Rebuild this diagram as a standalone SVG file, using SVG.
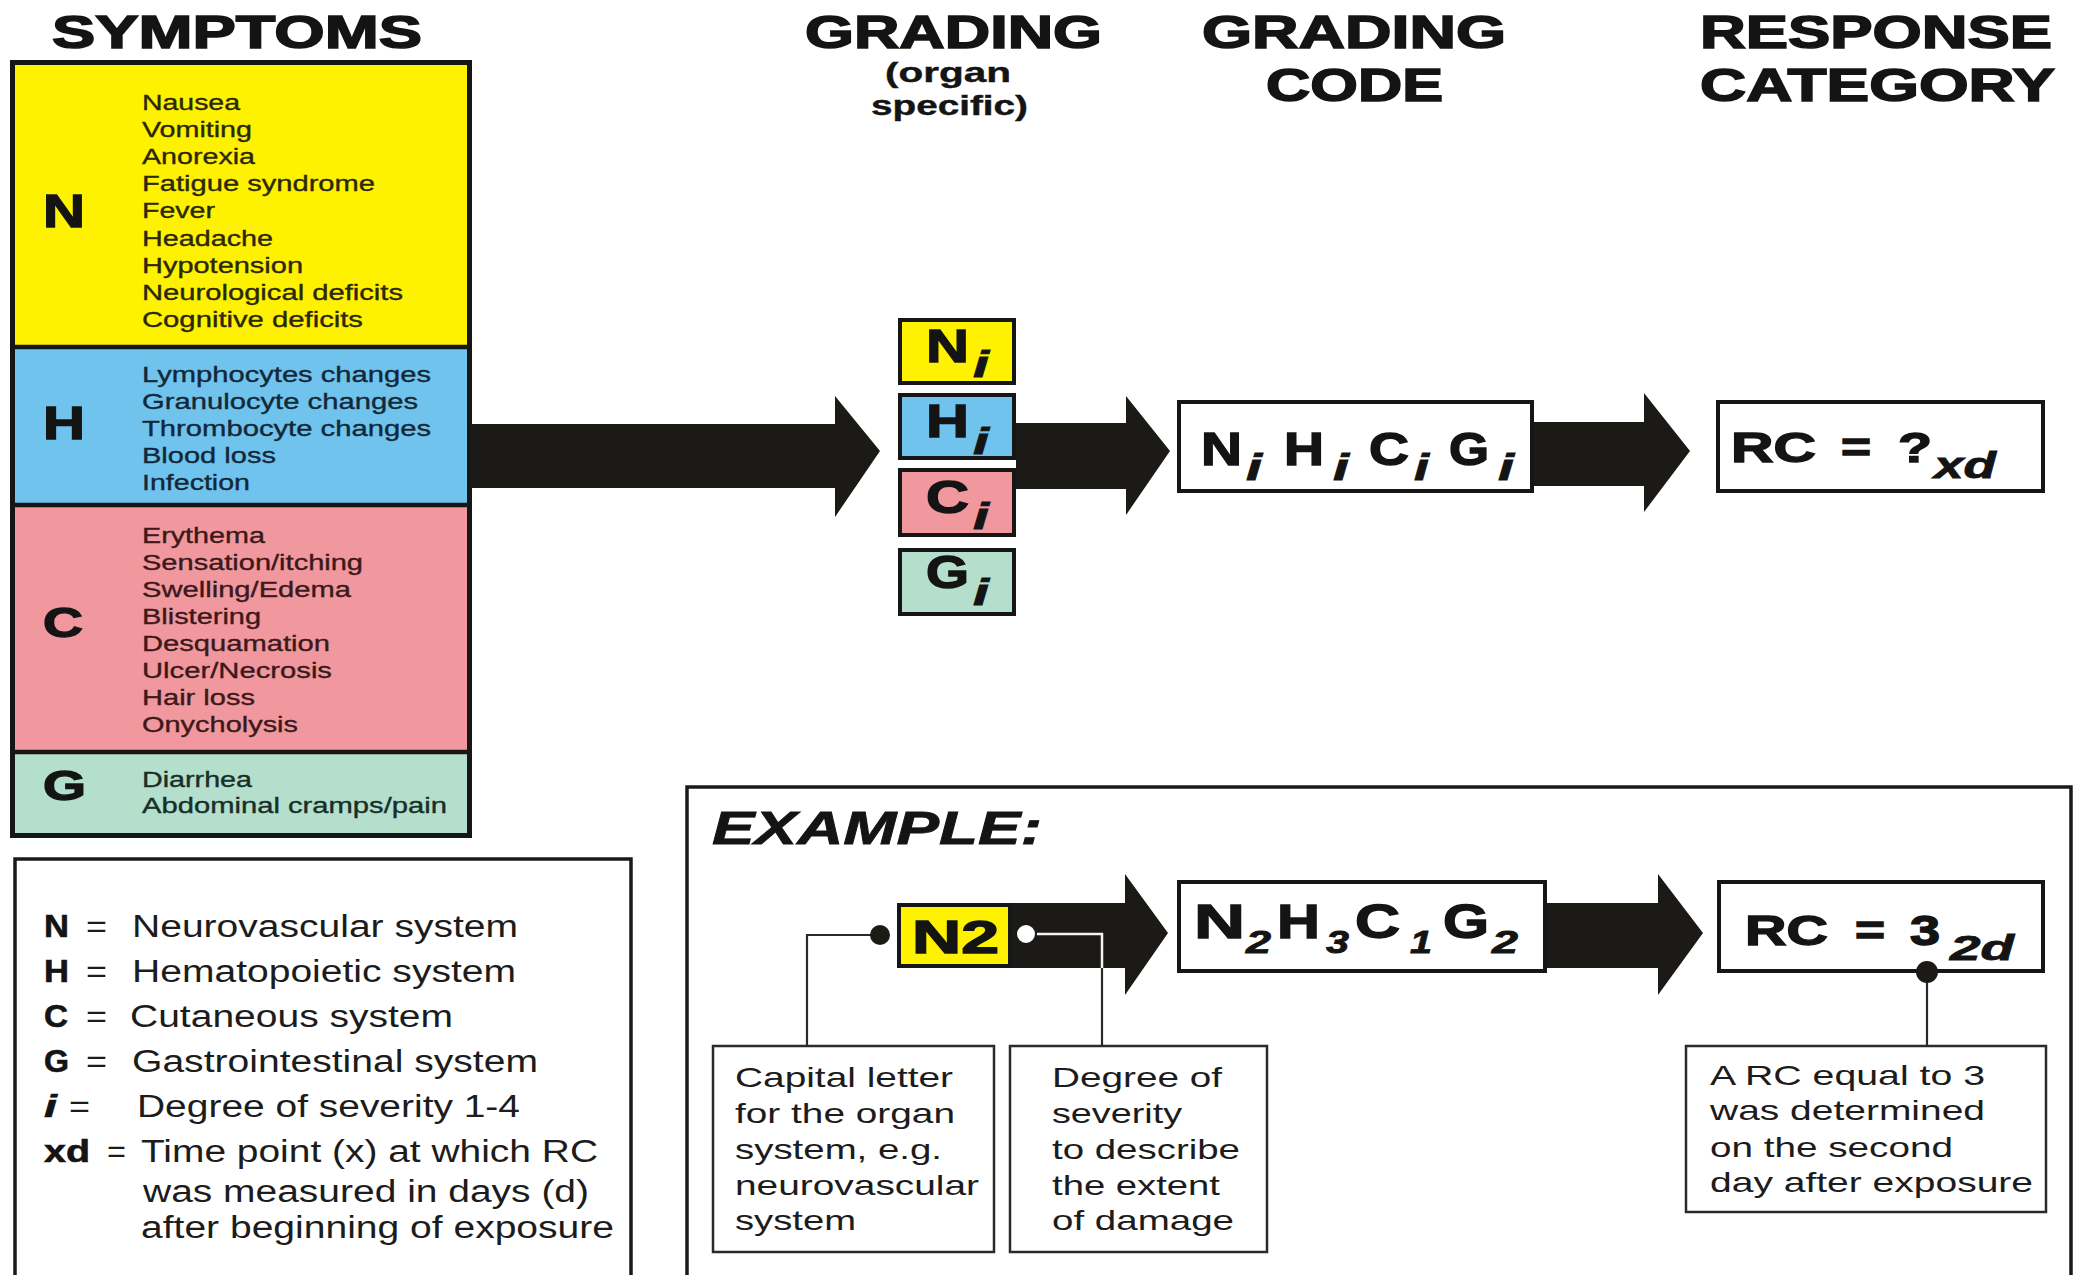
<svg xmlns="http://www.w3.org/2000/svg" width="2078" height="1275" viewBox="0 0 2078 1275">
  <style>
    text { font-family: "Liberation Sans", Arial, sans-serif; }
    .hd { font-weight: bold; font-size: 47px; fill: #141414; stroke: #141414; stroke-width: 1.6; }
    .hs { font-weight: bold; font-size: 28px; fill: #141414; stroke: #141414; stroke-width: 0.4; }
    .big { font-weight: bold; fill: #141414; stroke: #141414; stroke-width: 1.4; }
    .sub { font-weight: bold; font-style: italic; fill: #141414; stroke: #141414; stroke-width: 0.8; }
    .item { font-size: 22px; stroke-width: 0.35; }
    .iy { fill: #2a2808; stroke: #2a2808; }
    .ib { fill: #122838; stroke: #122838; }
    .ir { fill: #3c181b; stroke: #3c181b; }
    .ig { fill: #182e27; stroke: #182e27; }
    .lg { font-size: 31px; fill: #1c1c1c; }
    .lgb { font-size: 31px; font-weight: bold; fill: #141414; stroke: #141414; stroke-width: 0.6; }
    .note { font-size: 28px; fill: #1c1c1c; }
    .frame { fill: none; stroke: #161616; stroke-width: 5; }
    .sep { stroke: #161616; stroke-width: 4.5; }
    .gbox { stroke: #161616; stroke-width: 4; }
    .wbox { fill: #ffffff; stroke: #161616; stroke-width: 4; }
    .panel { fill: #ffffff; stroke: #1a1a1a; stroke-width: 3.5; }
    .callout { fill: #ffffff; stroke: #2a2a2a; stroke-width: 2.5; }
    .arrow { fill: #1c1a17; }
    .lead { fill: none; stroke: #2a2a2a; stroke-width: 2.2; }
    .lead-light { fill: none; stroke: #f4f4f4; stroke-width: 2.5; }
  </style>

  <rect width="2078" height="1275" fill="#ffffff"/>

  <!-- column headings -->
  <g id="headings">
    <text class="hd" x="52" y="48" textLength="370" lengthAdjust="spacingAndGlyphs">SYMPTOMS</text>
    <text class="hd" x="805" y="48" textLength="297" lengthAdjust="spacingAndGlyphs">GRADING</text>
    <text class="hs" x="885" y="82" textLength="126" lengthAdjust="spacingAndGlyphs">(organ</text>
    <text class="hs" x="871" y="115" textLength="157" lengthAdjust="spacingAndGlyphs">specific)</text>
    <text class="hd" x="1202" y="48" textLength="304" lengthAdjust="spacingAndGlyphs">GRADING</text>
    <text class="hd" x="1266" y="101" textLength="177" lengthAdjust="spacingAndGlyphs">CODE</text>
    <text class="hd" x="1700" y="48" textLength="352" lengthAdjust="spacingAndGlyphs">RESPONSE</text>
    <text class="hd" x="1700" y="101" textLength="355" lengthAdjust="spacingAndGlyphs">CATEGORY</text>
  </g>

  <!-- symptom table -->
  <g id="symptoms">
    <rect x="12.5" y="62.5" width="457" height="285" fill="#fff200"/>
    <rect x="12.5" y="347" width="457" height="158" fill="#70c3ec"/>
    <rect x="12.5" y="505" width="457" height="247" fill="#f0989e"/>
    <rect x="12.5" y="752" width="457" height="83.5" fill="#b3dfcc"/>
    <line class="sep" x1="12.5" y1="347" x2="469.5" y2="347"/>
    <line class="sep" x1="12.5" y1="505" x2="469.5" y2="505"/>
    <line class="sep" x1="12.5" y1="752" x2="469.5" y2="752"/>
    <rect class="frame" x="12.5" y="62.5" width="457" height="773"/>

    <g id="sym-n">
      <text class="big" font-size="47" x="43" y="227" textLength="42" lengthAdjust="spacingAndGlyphs">N</text>
      <g class="item iy">
        <text x="142" y="110" textLength="98" lengthAdjust="spacingAndGlyphs">Nausea</text>
        <text x="142" y="137" textLength="110" lengthAdjust="spacingAndGlyphs">Vomiting</text>
        <text x="142" y="164" textLength="113" lengthAdjust="spacingAndGlyphs">Anorexia</text>
        <text x="142" y="191" textLength="233" lengthAdjust="spacingAndGlyphs">Fatigue syndrome</text>
        <text x="142" y="218" textLength="73" lengthAdjust="spacingAndGlyphs">Fever</text>
        <text x="142" y="246" textLength="131" lengthAdjust="spacingAndGlyphs">Headache</text>
        <text x="142" y="273" textLength="161" lengthAdjust="spacingAndGlyphs">Hypotension</text>
        <text x="142" y="300" textLength="261" lengthAdjust="spacingAndGlyphs">Neurological deficits</text>
        <text x="142" y="327" textLength="221" lengthAdjust="spacingAndGlyphs">Cognitive deficits</text>
      </g>
    </g>

    <g id="sym-h">
      <text class="big" font-size="47" x="43" y="439" textLength="42" lengthAdjust="spacingAndGlyphs">H</text>
      <g class="item ib">
        <text x="142" y="382" textLength="289" lengthAdjust="spacingAndGlyphs">Lymphocytes changes</text>
        <text x="142" y="409" textLength="276" lengthAdjust="spacingAndGlyphs">Granulocyte changes</text>
        <text x="142" y="436" textLength="289" lengthAdjust="spacingAndGlyphs">Thrombocyte changes</text>
        <text x="142" y="463" textLength="134" lengthAdjust="spacingAndGlyphs">Blood loss</text>
        <text x="142" y="490" textLength="108" lengthAdjust="spacingAndGlyphs">Infection</text>
      </g>
    </g>

    <g id="sym-c">
      <text class="big" font-size="43" x="43" y="637" textLength="40" lengthAdjust="spacingAndGlyphs">C</text>
      <g class="item ir">
        <text x="142" y="543" textLength="123" lengthAdjust="spacingAndGlyphs">Erythema</text>
        <text x="142" y="570" textLength="221" lengthAdjust="spacingAndGlyphs">Sensation/itching</text>
        <text x="142" y="597" textLength="209" lengthAdjust="spacingAndGlyphs">Swelling/Edema</text>
        <text x="142" y="624" textLength="119" lengthAdjust="spacingAndGlyphs">Blistering</text>
        <text x="142" y="651" textLength="188" lengthAdjust="spacingAndGlyphs">Desquamation</text>
        <text x="142" y="678" textLength="190" lengthAdjust="spacingAndGlyphs">Ulcer/Necrosis</text>
        <text x="142" y="705" textLength="113" lengthAdjust="spacingAndGlyphs">Hair loss</text>
        <text x="142" y="732" textLength="156" lengthAdjust="spacingAndGlyphs">Onycholysis</text>
      </g>
    </g>

    <g id="sym-g">
      <text class="big" font-size="43" x="43" y="800" textLength="43" lengthAdjust="spacingAndGlyphs">G</text>
      <g class="item ig">
        <text x="142" y="787" textLength="110" lengthAdjust="spacingAndGlyphs">Diarrhea</text>
        <text x="142" y="813" textLength="305" lengthAdjust="spacingAndGlyphs">Abdominal cramps/pain</text>
      </g>
    </g>
  </g>

  <!-- organ-specific grading boxes -->
  <g id="grade-n">
    <rect class="gbox" x="900" y="320" width="114" height="63" fill="#fff200"/>
    <text class="big" font-size="47" x="926" y="362" textLength="43" lengthAdjust="spacingAndGlyphs">N</text>
    <text class="sub" font-size="36" x="973" y="377" textLength="16" lengthAdjust="spacingAndGlyphs">i</text>
  </g>
  <g id="grade-h">
    <rect class="gbox" x="900" y="395" width="114" height="63" fill="#70c3ec"/>
    <text class="big" font-size="47" x="926" y="437" textLength="43" lengthAdjust="spacingAndGlyphs">H</text>
    <text class="sub" font-size="36" x="973" y="454" textLength="16" lengthAdjust="spacingAndGlyphs">i</text>
  </g>
  <g id="grade-c">
    <rect class="gbox" x="900" y="470" width="114" height="65" fill="#f0989e"/>
    <text class="big" font-size="47" x="926" y="513" textLength="43" lengthAdjust="spacingAndGlyphs">C</text>
    <text class="sub" font-size="36" x="973" y="529" textLength="16" lengthAdjust="spacingAndGlyphs">i</text>
  </g>
  <g id="grade-g">
    <rect class="gbox" x="900" y="550" width="114" height="64" fill="#b3dfcc"/>
    <text class="big" font-size="47" x="926" y="588" textLength="43" lengthAdjust="spacingAndGlyphs">G</text>
    <text class="sub" font-size="36" x="973" y="605" textLength="16" lengthAdjust="spacingAndGlyphs">i</text>
  </g>

  <!-- grading code -->
  <g id="grading-code">
    <rect class="wbox" x="1179" y="402" width="353" height="89"/>
    <text class="big" font-size="46" x="1201" y="465" textLength="41" lengthAdjust="spacingAndGlyphs">N</text>
    <text class="sub" font-size="36" x="1246" y="480" textLength="16" lengthAdjust="spacingAndGlyphs">i</text>
    <text class="big" font-size="46" x="1284" y="465" textLength="40" lengthAdjust="spacingAndGlyphs">H</text>
    <text class="sub" font-size="36" x="1333" y="480" textLength="16" lengthAdjust="spacingAndGlyphs">i</text>
    <text class="big" font-size="46" x="1369" y="465" textLength="40" lengthAdjust="spacingAndGlyphs">C</text>
    <text class="sub" font-size="36" x="1414" y="480" textLength="15" lengthAdjust="spacingAndGlyphs">i</text>
    <text class="big" font-size="46" x="1449" y="465" textLength="40" lengthAdjust="spacingAndGlyphs">G</text>
    <text class="sub" font-size="36" x="1498" y="480" textLength="16" lengthAdjust="spacingAndGlyphs">i</text>
  </g>

  <!-- response category -->
  <g id="response-category">
    <rect class="wbox" x="1718" y="402" width="325" height="89"/>
    <text class="big" font-size="42" x="1731" y="462" textLength="85" lengthAdjust="spacingAndGlyphs">RC</text>
    <text class="big" font-size="42" x="1841" y="462" textLength="30" lengthAdjust="spacingAndGlyphs">=</text>
    <text class="big" font-size="42" x="1898" y="462" textLength="34" lengthAdjust="spacingAndGlyphs">?</text>
    <text class="sub" font-size="37" x="1934" y="478" textLength="62" lengthAdjust="spacingAndGlyphs">xd</text>
  </g>

  <!-- legend -->
  <g id="legend">
    <rect class="panel" x="15" y="859" width="616" height="460"/>
    <text class="lgb" x="44" y="937" textLength="25" lengthAdjust="spacingAndGlyphs">N</text>
    <text class="lg" x="86" y="937" textLength="21" lengthAdjust="spacingAndGlyphs">=</text>
    <text class="lg" x="132" y="937" textLength="386" lengthAdjust="spacingAndGlyphs">Neurovascular system</text>
    <text class="lgb" x="44" y="982" textLength="25" lengthAdjust="spacingAndGlyphs">H</text>
    <text class="lg" x="86" y="982" textLength="21" lengthAdjust="spacingAndGlyphs">=</text>
    <text class="lg" x="132" y="982" textLength="384" lengthAdjust="spacingAndGlyphs">Hematopoietic system</text>
    <text class="lgb" x="44" y="1027" textLength="24" lengthAdjust="spacingAndGlyphs">C</text>
    <text class="lg" x="86" y="1027" textLength="21" lengthAdjust="spacingAndGlyphs">=</text>
    <text class="lg" x="130" y="1027" textLength="323" lengthAdjust="spacingAndGlyphs">Cutaneous system</text>
    <text class="lgb" x="44" y="1072" textLength="25" lengthAdjust="spacingAndGlyphs">G</text>
    <text class="lg" x="86" y="1072" textLength="21" lengthAdjust="spacingAndGlyphs">=</text>
    <text class="lg" x="132" y="1072" textLength="406" lengthAdjust="spacingAndGlyphs">Gastrointestinal system</text>
    <text class="lgb" x="44" y="1117" font-style="italic" textLength="13" lengthAdjust="spacingAndGlyphs">i</text>
    <text class="lg" x="69" y="1117" textLength="21" lengthAdjust="spacingAndGlyphs">=</text>
    <text class="lg" x="137" y="1117" textLength="383" lengthAdjust="spacingAndGlyphs">Degree of severity 1-4</text>
    <text class="lgb" x="44" y="1162" textLength="46" lengthAdjust="spacingAndGlyphs">xd</text>
    <text class="lg" x="107" y="1162" textLength="19" lengthAdjust="spacingAndGlyphs">=</text>
    <text class="lg" x="141" y="1162" textLength="457" lengthAdjust="spacingAndGlyphs">Time point (x) at which RC</text>
    <text class="lg" x="143" y="1202" textLength="446" lengthAdjust="spacingAndGlyphs">was measured in days (d)</text>
    <text class="lg" x="141" y="1238" textLength="473" lengthAdjust="spacingAndGlyphs">after beginning of exposure</text>
  </g>

  <!-- worked example -->
  <g id="example">
    <rect class="panel" x="687" y="787" width="1384" height="530"/>
    <text class="sub" font-size="47" x="712" y="844" textLength="330" lengthAdjust="spacingAndGlyphs">EXAMPLE:</text>

    <g id="example-grade">
      <rect class="gbox" x="899" y="905" width="111" height="61" fill="#fff200"/>
      <text class="big" font-size="46" x="912" y="953" textLength="87" lengthAdjust="spacingAndGlyphs">N2</text>
    </g>

    <g id="example-code">
      <rect class="wbox" x="1179" y="882" width="366" height="89"/>
      <text class="big" font-size="49" x="1194" y="938" textLength="51" lengthAdjust="spacingAndGlyphs">N</text>
      <text class="sub" font-size="31" x="1246" y="953" textLength="25" lengthAdjust="spacingAndGlyphs">2</text>
      <text class="big" font-size="49" x="1277" y="938" textLength="43" lengthAdjust="spacingAndGlyphs">H</text>
      <text class="sub" font-size="31" x="1326" y="953" textLength="23" lengthAdjust="spacingAndGlyphs">3</text>
      <text class="big" font-size="49" x="1355" y="938" textLength="45" lengthAdjust="spacingAndGlyphs">C</text>
      <text class="sub" font-size="31" x="1410" y="953" textLength="22" lengthAdjust="spacingAndGlyphs">1</text>
      <text class="big" font-size="49" x="1443" y="938" textLength="46" lengthAdjust="spacingAndGlyphs">G</text>
      <text class="sub" font-size="31" x="1492" y="953" textLength="26" lengthAdjust="spacingAndGlyphs">2</text>
    </g>

    <g id="example-rc">
      <rect class="wbox" x="1719" y="882" width="324" height="89"/>
      <text class="big" font-size="42" x="1745" y="945" textLength="83" lengthAdjust="spacingAndGlyphs">RC</text>
      <text class="big" font-size="42" x="1855" y="945" textLength="30" lengthAdjust="spacingAndGlyphs">=</text>
      <text class="big" font-size="42" x="1910" y="945" textLength="30" lengthAdjust="spacingAndGlyphs">3</text>
      <text class="sub" font-size="35" x="1950" y="960" textLength="64" lengthAdjust="spacingAndGlyphs">2d</text>
    </g>

    <g id="note-letter">
      <rect class="callout" x="713" y="1046" width="281" height="206"/>
      <text class="note" x="735" y="1087" textLength="218" lengthAdjust="spacingAndGlyphs">Capital letter</text>
      <text class="note" x="735" y="1123" textLength="220" lengthAdjust="spacingAndGlyphs">for the organ</text>
      <text class="note" x="735" y="1159" textLength="207" lengthAdjust="spacingAndGlyphs">system, e.g.</text>
      <text class="note" x="735" y="1195" textLength="244" lengthAdjust="spacingAndGlyphs">neurovascular</text>
      <text class="note" x="735" y="1230" textLength="121" lengthAdjust="spacingAndGlyphs">system</text>
    </g>

    <g id="note-degree">
      <rect class="callout" x="1010" y="1046" width="257" height="206"/>
      <text class="note" x="1052" y="1087" textLength="170" lengthAdjust="spacingAndGlyphs">Degree of</text>
      <text class="note" x="1052" y="1123" textLength="130" lengthAdjust="spacingAndGlyphs">severity</text>
      <text class="note" x="1052" y="1159" textLength="188" lengthAdjust="spacingAndGlyphs">to describe</text>
      <text class="note" x="1052" y="1195" textLength="168" lengthAdjust="spacingAndGlyphs">the extent</text>
      <text class="note" x="1052" y="1230" textLength="182" lengthAdjust="spacingAndGlyphs">of damage</text>
    </g>

    <g id="note-rc">
      <rect class="callout" x="1686" y="1046" width="360" height="166"/>
      <text class="note" x="1710" y="1085" textLength="275" lengthAdjust="spacingAndGlyphs">A RC equal to 3</text>
      <text class="note" x="1710" y="1120" textLength="275" lengthAdjust="spacingAndGlyphs">was determined</text>
      <text class="note" x="1710" y="1157" textLength="243" lengthAdjust="spacingAndGlyphs">on the second</text>
      <text class="note" x="1710" y="1192" textLength="323" lengthAdjust="spacingAndGlyphs">day after exposure</text>
    </g>
  </g>

  <!-- block arrows and callout leaders -->
  <g id="connectors">
    <path class="arrow" d="M470 424 H835 V396 L880 451 L835 517 V488 H470 Z"/>
    <path class="arrow" d="M1016 423 H1126 V396 L1170 451 L1126 515 V489 H1016 Z"/>
    <path class="arrow" d="M1534 422 H1644 V393 L1690 451 L1644 512 V486 H1534 Z"/>
    <path class="arrow" d="M1012 903 H1125 V874 L1168 933 L1125 995 V968 H1012 Z"/>
    <path class="arrow" d="M1547 903 H1658 V874 L1703 933 L1658 995 V968 H1547 Z"/>

    <polyline class="lead" points="880,935 807,935 807,1046"/>
    <circle cx="880" cy="935" r="10" fill="#1c1a17"/>

    <polyline class="lead-light" points="1036,934 1102,934 1102,968"/>
    <line class="lead" x1="1102" y1="968" x2="1102" y2="1046"/>
    <circle cx="1026" cy="934" r="10" fill="#ffffff" stroke="#1c1a17" stroke-width="2"/>

    <line class="lead" x1="1927" y1="972" x2="1927" y2="1046"/>
    <circle cx="1927" cy="972" r="11" fill="#1c1a17"/>
  </g>
</svg>
